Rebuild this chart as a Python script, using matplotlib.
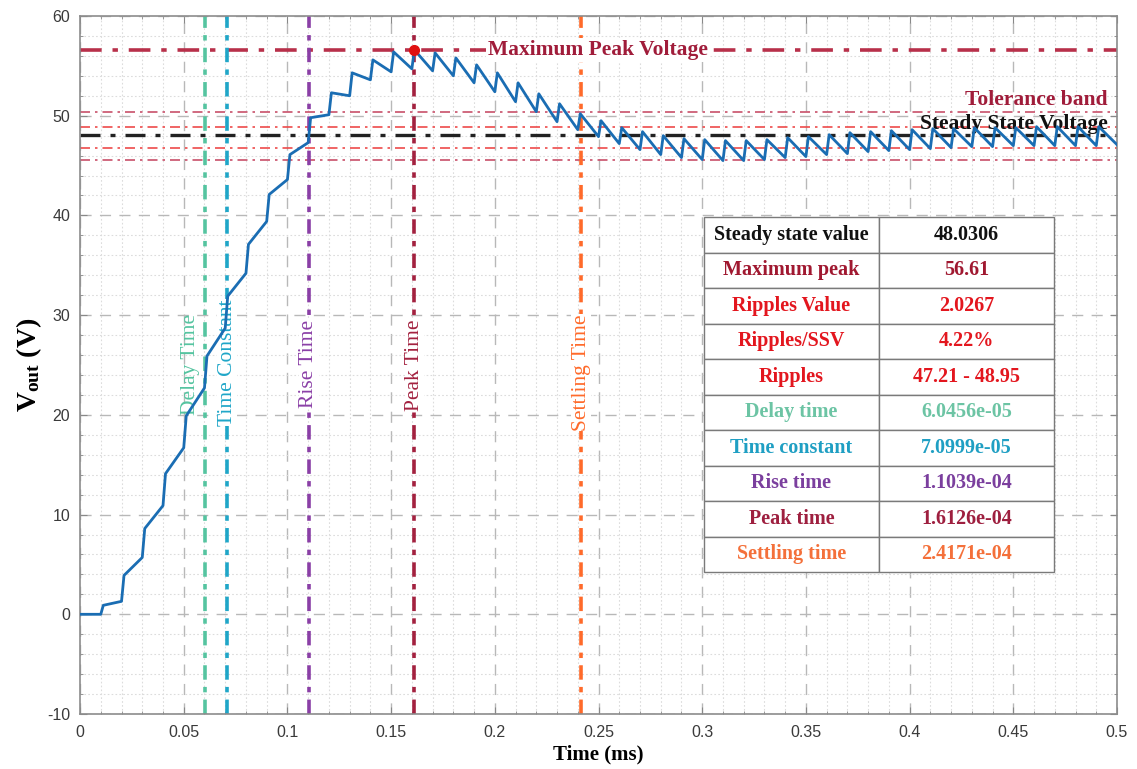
import numpy as np
import matplotlib
matplotlib.use("Agg")
import matplotlib.pyplot as plt

plt.rcParams['mathtext.fontset'] = 'custom'
plt.rcParams['mathtext.rm'] = 'Liberation Serif'
plt.rcParams['mathtext.bf'] = 'Liberation Serif:bold'
plt.rcParams['axes.unicode_minus'] = False

# ---------------- data ----------------
switch_times = [0.01, 0.02, 0.03, 0.04, 0.05, 0.06, 0.07, 0.08, 0.09, 0.10,
                0.11, 0.12, 0.13, 0.14, 0.15, 0.16, 0.17, 0.18, 0.19, 0.20,
                0.21, 0.22, 0.23, 0.24, 0.25, 0.26, 0.27, 0.28, 0.29, 0.30,
                0.31, 0.32, 0.33, 0.34, 0.35, 0.36, 0.37, 0.38, 0.39, 0.40,
                0.41, 0.42, 0.43, 0.44, 0.45, 0.46, 0.47, 0.48, 0.49]
v_after_jump = [0.9, 3.9, 8.6, 14.1, 19.9, 25.9, 31.9, 37.1, 42.1, 46.1,
                49.8, 52.3, 54.3, 55.6, 56.4, 56.61, 56.3, 55.8, 55.1, 54.3,
                53.3, 52.2, 51.2, 50.2, 49.5, 48.8, 48.4, 48.0, 47.7, 47.6,
                47.5, 47.5, 47.6, 47.8, 47.9, 48.1, 48.3, 48.4, 48.5, 48.6,
                48.7, 48.7, 48.8, 48.8, 48.8, 48.9, 48.9, 48.9, 48.9]
v_period_end = [1.3, 5.7, 10.9, 16.7, 22.7, 28.7, 34.2, 39.4, 43.6, 47.3,
                50.1, 52.0, 53.6, 54.4, 54.7, 54.5, 54.0, 53.3, 52.4, 51.4,
                50.4, 49.4, 48.6, 47.9, 47.2, 46.6, 46.1, 45.8, 45.6, 45.5,
                45.5, 45.6, 45.8, 45.9, 46.1, 46.2, 46.4, 46.5, 46.6, 46.7,
                46.8, 46.9, 46.9, 47.0, 47.0, 47.0, 47.0, 47.0, 47.1]
period = 0.01
rise = 0.0012

steady_state = 48.0306
max_peak = 56.61
peak_time = 0.16126
ripple_band = [48.85, 46.75]
tolerance_band = [50.35, 45.6]

vline_times = [0.060456, 0.070999, 0.11039, 0.16126, 0.24171]
vline_labels = ['Delay Time', 'Time Constant', 'Rise Time', 'Peak Time', 'Settling Time']
vline_colors = ['#55c4a0', '#1fa6c8', '#8a3fa6', '#a3213f', '#ff6a2a']

table_labels = ['Steady state value', 'Maximum peak', 'Ripples Value', 'Ripples/SSV',
                'Ripples', 'Delay time', 'Time constant', 'Rise time', 'Peak time',
                'Settling time']
table_values = ['48.0306', '56.61', '2.0267', '4.22%', '47.21 - 48.95', '6.0456e-05',
                '7.0999e-05', '1.1039e-04', '1.6126e-04', '2.4171e-04']
table_colors = ['#111111', '#a01830', '#e3161e', '#e3161e', '#e3161e', '#6cc4a4',
                '#1f9fc3', '#7b3f9e', '#9e1f3f', '#f4703a']

x_ticks = [0, 0.05, 0.1, 0.15, 0.2, 0.25, 0.3, 0.35, 0.4, 0.45, 0.5]
y_ticks = [-10, 0, 10, 20, 30, 40, 50, 60]

# ---------------- waveform ----------------
t = [0.0, switch_times[0]]
v = [0.0, 0.0]
for ts, va, ve in zip(switch_times, v_after_jump, v_period_end):
    t += [ts + rise, ts + period]
    v += [va, ve]

fig = plt.figure(figsize=(11.37, 7.69), dpi=100)
ax = fig.add_axes([0.0704, 0.0715, 0.912, 0.9077])

ax.set_xlim(0, 0.5)
ax.set_ylim(-10, 60)
ax.set_xticks(x_ticks)
ax.set_xticklabels(['%g' % x for x in x_ticks])
ax.set_yticks(y_ticks)
ax.set_xticks(np.arange(0, 0.5001, 0.01), minor=True)
ax.set_yticks(np.arange(-10, 60.01, 2), minor=True)
ax.grid(which='major', color='#b8b8b8', linestyle=(0, (8, 6)), linewidth=1.0)
ax.grid(which='minor', color='#dcdcdc', linestyle=(0, (1.5, 2)), linewidth=0.8)
ax.set_axisbelow(True)
ax.tick_params(which='both', direction='in', top=True, right=True, color='#888888')
ax.tick_params(which='major', length=5, labelsize=11.5, labelcolor='#3a3a3a')
ax.tick_params(axis='x', which='major', pad=8)
ax.tick_params(axis='y', which='major', pad=7)
ax.tick_params(which='minor', length=2.5)
for lab in ax.get_xticklabels() + ax.get_yticklabels():
    lab.set_family('Liberation Sans')
for s in ax.spines.values():
    s.set_color('#8c8c8c')
    s.set_linewidth(1.2)

# horizontal lines
ax.axhline(max_peak, color='#b8304a', lw=2.6, ls=(0, (6, 3, 1.5, 3)), zorder=2)
for y in tolerance_band:
    ax.axhline(y, color='#c8506a', lw=1.2, ls=(0, (6, 3, 1.5, 3)), zorder=2)
for y in ripple_band:
    ax.axhline(y, color='#ee4a4a', lw=1.2, ls=(0, (6, 3, 1.5, 3)), zorder=2)
ax.axhline(steady_state, color='#222222', lw=2.4, ls=(0, (6, 3, 1.5, 3)), zorder=2)

# vertical lines
for xt, lab, col in zip(vline_times, vline_labels, vline_colors):
    ax.axvline(xt, color=col, lw=2.6, ls=(0, (4, 2, 1.5, 2)), zorder=2)

label_offsets = [-0.0072, 0.0, 0.0, 0.0, 0.0]
label_bottoms = [20.0, 18.9, 20.7, 20.4, 18.4]
for xt, lab, col, dx, yb in zip(vline_times, vline_labels, vline_colors, label_offsets, label_bottoms):
    ax.text(xt + dx, yb, lab, rotation=90, ha='center', va='bottom', color=col,
            family='Liberation Serif', fontsize=15.5, zorder=3,
            bbox=dict(facecolor='white', edgecolor='none', pad=0.3, alpha=0.0 if dx else 1.0))

ax.plot(t, v, color='#1a6db3', lw=2.0, zorder=4)
ax.plot([peak_time], [max_peak], 'o', color='#e01010', ms=7, zorder=5)

ax.text(0.2498, max_peak, 'Maximum Peak Voltage', ha='center', va='center',
        color='#a01c3a', family='Liberation Serif', fontweight='bold', fontsize=15.5,
        zorder=3, bbox=dict(facecolor='white', edgecolor='none', pad=1.5))
ax.text(0.4957, 51.6, 'Tolerance band', ha='right', va='center', color='#a01c3a',
        family='Liberation Serif', fontweight='bold', fontsize=15.5, zorder=3)
ax.text(0.4957, 49.2, 'Steady State Voltage', ha='right', va='center', color='#111111',
        family='Liberation Serif', fontweight='bold', fontsize=15.5, zorder=3)

ax.set_xlabel('Time (ms)', family='Liberation Serif', fontweight='bold', fontsize=15,
              labelpad=3)
ax.set_ylabel(r'$\mathbf{V_{out}}$ (V)', family='Liberation Serif', fontweight='bold',
              fontsize=20, labelpad=2)

# table
cell_text = [[a, b] for a, b in zip(table_labels, table_values)]
tb = ax.table(cellText=cell_text, cellLoc='center',
              bbox=[0.6017, 0.2034, 0.3375, 0.5086], zorder=6)
tb.auto_set_font_size(False)
for (r, c), cell in tb.get_celld().items():
    cell.set_edgecolor('#7a7a7a')
    cell.set_linewidth(1.0)
    cell.set_facecolor('white')
    txt = cell.get_text()
    txt.set_color(table_colors[r])
    txt.set_fontfamily('Liberation Serif')
    txt.set_fontweight('bold')
    txt.set_fontsize(14.5)

fig.savefig('out.png', dpi=100)
